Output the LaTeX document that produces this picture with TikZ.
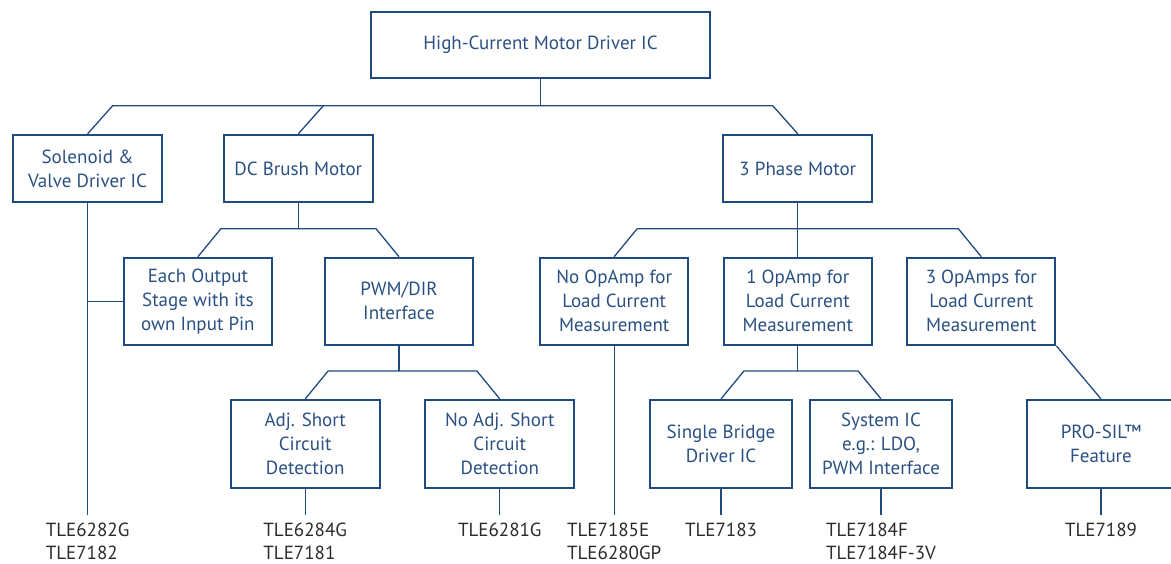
\documentclass[tikz,border=0pt]{standalone}
\usepackage{fontspec}
\setmainfont{PT Sans}
\usetikzlibrary{calc}

\definecolor{ifxblue}{HTML}{1F4B7E}
\definecolor{ifxtext}{HTML}{2A5082}
\definecolor{ifxgray}{HTML}{2B2B2B}

\tikzset{
  box/.style={draw=ifxblue,line width=2.2pt,text=ifxtext,align=center,
    inner sep=0pt,font=\fontsize{19}{24}\selectfont},
  link/.style={draw=ifxblue,line width=1.3pt},
  part/.style={text=ifxgray,align=left,anchor=north,inner sep=0pt,
    font=\fontsize{19}{23}\selectfont},
}

\begin{document}
\begin{tikzpicture}[x=1pt,y=-1pt,line join=miter]
\clip (0,0) rectangle (1171,564);

% top box
\node[box,minimum width=339,minimum height=66] (top) at (540.5,45) {High-Current Motor Driver IC};

% second row
\node[box,minimum width=149,minimum height=67] (sol) at (87.6,168.4) {Solenoid \&\\Valve Driver IC};
\node[box,minimum width=149,minimum height=67] (dc) at (298.3,168.4) {DC Brush Motor};
\node[box,minimum width=149,minimum height=67] (three) at (797.8,168.4) {3 Phase Motor};

% third row
\node[box,minimum width=148,minimum height=87] (each) at (197.9,301.3) {Each Output\\Stage with its\\own Input Pin};
\node[box,minimum width=148,minimum height=87] (pwm) at (399,301.3) {PWM/DIR\\Interface};
\node[box,minimum width=148,minimum height=87] (noop) at (614.2,301.3) {No OpAmp for\\Load Current\\Measurement};
\node[box,minimum width=148,minimum height=87] (oneop) at (797.8,301.3) {1 OpAmp for\\Load Current\\Measurement};
\node[box,minimum width=148,minimum height=87] (threeop) at (981.3,301.3) {3 OpAmps for\\Load Current\\Measurement};

% fourth row
\node[box,minimum width=149,minimum height=88] (adj) at (305.2,444) {Adj. Short\\Circuit\\Detection};
\node[box,minimum width=149,minimum height=88] (noadj) at (499.8,444) {No Adj. Short\\Circuit\\Detection};
\node[box,minimum width=142,minimum height=88] (single) at (721,444) {Single Bridge\\Driver IC};
\node[box,minimum width=142,minimum height=88] (sys) at (881,444) {System IC\\e.g.: LDO,\\PWM Interface};
\node[box,minimum width=148,minimum height=88] (prosil) at (1101,444) {PRO-SIL™\\Feature};

% forks
\coordinate (b1l) at ($(sol.north)+(25,-28)$);
\coordinate (b1r) at ($(three.north)+(-25,-28)$);
\draw[link] (top.south) -- (top.south |- b1l);
\draw[link] (sol.north) -- (b1l) -- (b1r) -- (three.north);
\draw[link] (dc.north) -- ++(25,-28);

\draw[link] (each.north) -- ++(23,-28) coordinate (b2l) -- ($(pwm.north)+(-23,-28)$) -- (pwm.north);
\draw[link] (dc.south) -- (dc.south |- b2l);

\draw[link] (noop.north) -- ++(23,-28) coordinate (b3l) -- ($(threeop.north)+(-23,-28)$) -- (threeop.north);
\draw[link] (three.south) -- (oneop.north);

\draw[link] (adj.north) -- ++(23,-28) coordinate (b4l) -- ($(noadj.north)+(-23,-28)$) -- (noadj.north);
\draw[link] (pwm.south) -- (pwm.south |- b4l);

\draw[link] (single.north) -- ++(23,-28) coordinate (b5l) -- ($(sys.north)+(-23,-28)$) -- (sys.north);
\draw[link] (oneop.south) -- (oneop.south |- b5l);

\draw[link] (threeop.south east) -- (prosil.north);

% part numbers
\coordinate (leafy) at (0,515);
\draw[link] (sol.south) -- (sol.south |- leafy) coordinate (p1);
\draw[link] (each.west) -- (each.west -| sol.south);
\draw[link] (adj.south) -- (adj.south |- leafy) coordinate (p2);
\draw[link] (noadj.south) -- (noadj.south |- leafy) coordinate (p3);
\draw[link] (noop.south) -- (noop.south |- leafy) coordinate (p4);
\draw[link] (single.south) -- (single.south |- leafy) coordinate (p5);
\draw[link] (sys.south) -- (sys.south |- leafy) coordinate (p6);
\draw[link] (prosil.south) -- (prosil.south |- leafy) coordinate (p7);

\node[part] (n1) at ($(p1)+(0,8)$) {TLE6282G\\TLE7182};
\node[part] (n2) at ($(p2)+(0,8)$) {TLE6284G\\TLE7181};
\node[part] (n3) at ($(p3)+(0,8)$) {TLE6281G};
\node[part] (n4) at ($(p4)+(0,8)$) {TLE7185E\\TLE6280GP};
\node[part] (n5) at ($(p5)+(0,8)$) {TLE7183};
\node[part] (n6) at ($(p6)+(0,8)$) {TLE7184F\\TLE7184F-3V};
\node[part] (n7) at ($(p7)+(0,8)$) {TLE7189};

\end{tikzpicture}
\end{document}
